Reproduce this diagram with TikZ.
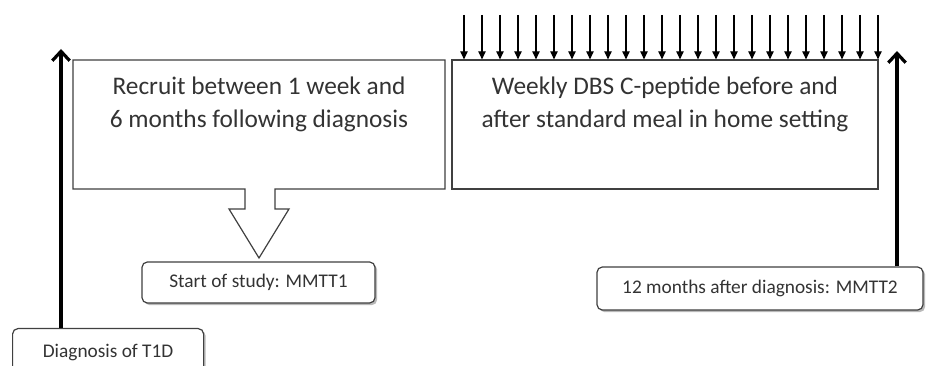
\documentclass[tikz,border=0pt]{standalone}
\usepackage{fontspec}
\setmainfont{Carlito}
\usetikzlibrary{arrows.meta,shadows}
\definecolor{txt}{HTML}{333333}
\definecolor{edge}{HTML}{404040}
\begin{document}
\begin{tikzpicture}[x=0.75pt,y=-0.75pt,
  roundbox/.style={draw=edge, line width=0.9pt, rounded corners=4pt, fill=white,
    drop shadow={shadow xshift=1.6pt, shadow yshift=-1.6pt, fill=black!50, opacity=0.55},
    text=txt, font=\fontsize{14.5}{17}\selectfont, inner sep=0pt},
  bigtext/.style={text=txt, font=\fontsize{19}{24.75}\selectfont, align=center, inner sep=0pt},
  plainbox/.style={draw=edge, line width=0.9pt, inner sep=0pt},
  bigarrow/.style={line width=2.6pt, -{Straight Barb[length=7pt,width=13pt,line width=2.4pt]}},
  tick/.style={line width=0.9pt, -{Triangle[length=6pt,width=5.5pt]}}]
\useasboundingbox (0,0) rectangle (932,366);
\clip (0,0) rectangle (932,366);
\fill[white] (0,0) rectangle (932,366);

% rounded label boxes
\node[roundbox, minimum width=143.25pt, minimum height=36pt, anchor=north west] (diag) at (12,328) {Diagnosis of T1D};
\node[roundbox, minimum width=174.75pt, minimum height=30.75pt] (start) at (258.5,282.5) {Start of study: MMTT1};
\node[roundbox, minimum width=244.5pt, minimum height=32.25pt] (mm2) at (760,288.5) {12 months after diagnosis: MMTT2};

% recruit callout
\draw[edge, line width=0.9pt] (73,60) -- (445,60) -- (445,189) -- (275,189) -- (275,209) -- (289,209)
  -- (259,258) -- (229,209) -- (245,209) -- (245,189) -- (73,189) -- cycle;
\node[bigtext] (recruit) at (259,104) {Recruit between 1 week and\\6 months following diagnosis};

% DBS box
\node[plainbox, minimum width=319.5pt, minimum height=96.75pt] (dbs) at (665,124.5) {};
\node[bigtext] (dbstext) at (665,104) {Weekly DBS C-peptide before and\\after standard meal in home setting};

% weekly ticks
\foreach \i in {0,...,23}{
  \coordinate (t\i) at (464+\i*18,15);
  \draw[tick] (t\i) -- (t\i |- dbs.north);
}

% timeline arrows
\coordinate (ltop) at (61,49);
\draw[bigarrow] (ltop |- diag.north) -- (ltop);
\coordinate (rtop) at (897,51);
\draw[bigarrow] (rtop |- mm2.north) -- (rtop);
\end{tikzpicture}
\end{document}
